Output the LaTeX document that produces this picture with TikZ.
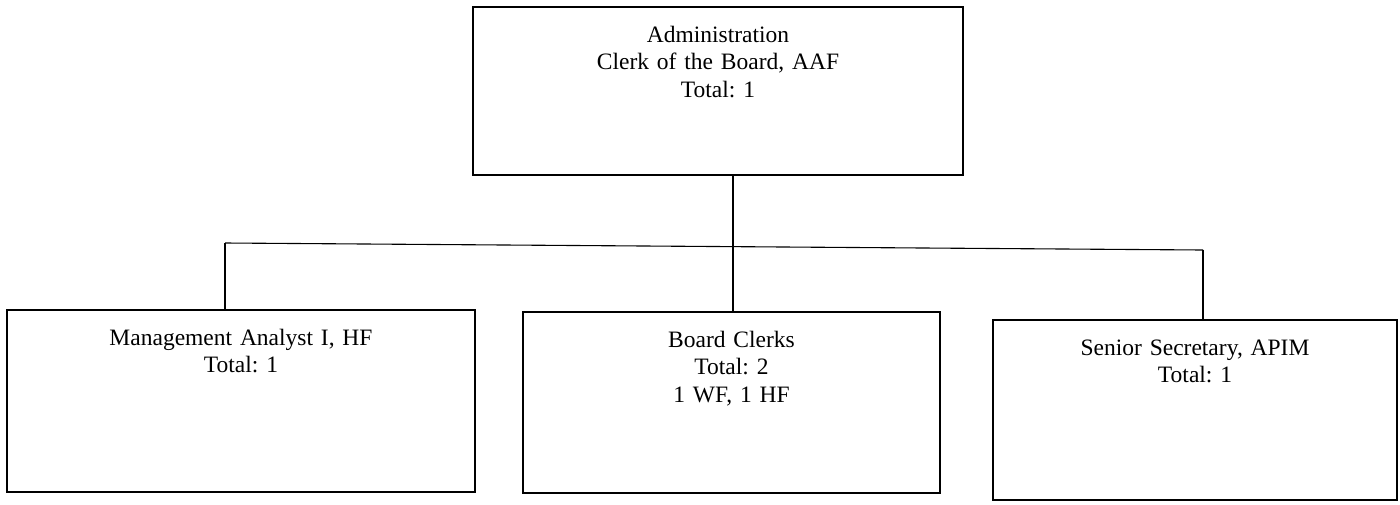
\documentclass[tikz,border=0pt]{standalone}
\usepackage{fontspec}
\setmainfont{Liberation Serif}
\usepackage{tikz}
\frenchspacing

\tikzset{
    unit/.style={draw, line width=1.1pt, inner sep=0pt, outer sep=0pt,
        align=center, anchor=north, text height=35pt,
        font=\fontsize{23.5}{27.5}\selectfont},
    link/.style={line width=1.1pt}
}

\begin{document}
\begin{tikzpicture}[x=1pt, y=-1pt]

        % 画像の範囲
        \useasboundingbox (0,0) rectangle (1400,504);

        % 上の箱
        \node[unit, text width=490pt, text depth=133pt] (admin) at (718,7)
            {Administration\\Clerk of the Board, AAF\\Total: 1};

        % 下の三つの箱
        \node[unit, text width=468pt, text depth=147pt] (analyst) at (241,310)
            {Management Analyst I, HF\\Total: 1};
        \node[unit, text width=417pt, text depth=146pt] (clerks) at (731.5,312)
            {Board Clerks\\Total: 2\\1 WF, 1 HF};
        \node[unit, text width=404pt, text depth=145pt] (secretary) at (1195,320)
            {Senior Secretary, APIM\\Total: 1};

        % 分岐点
        \coordinate (jl) at (225,243);
        \coordinate (hub) at (733,246.6);
        \coordinate (jr) at (1203,250);

        % 線
        \draw[link] (admin.south -| hub) -- (hub);
        \draw[link] (jl) -- (jr);
        \draw[link] (jl) -- (jl |- analyst.north);
        \draw[link] (hub) -- (hub |- clerks.north);
        \draw[link] (jr) -- (jr |- secretary.north);

    \end{tikzpicture}
\end{document}
